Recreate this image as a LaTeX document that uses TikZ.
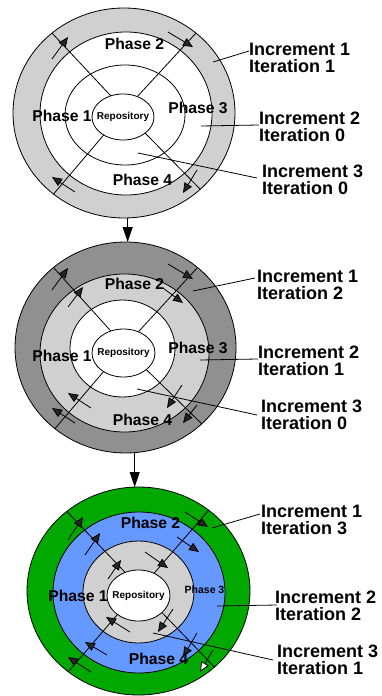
\documentclass[tikz,border=0pt]{standalone}
\usepackage{fontspec}
\setmainfont{Liberation Sans}
\usetikzlibrary{arrows.meta,shapes.geometric,calc}
\definecolor{ringlight}{RGB}{208,208,208}
\definecolor{ringdark}{RGB}{144,144,144}
\definecolor{ringgreen}{RGB}{0,168,0}
\definecolor{ringblue}{RGB}{102,153,255}
\begin{document}
\begin{tikzpicture}[x=1pt,y=-1pt,
  ring/.style={draw=black, line width=0.8pt, ellipse, inner sep=0pt, outer sep=0pt},
  repo/.style={ring, fill=white},
  repotext/.style={font=\bfseries\fontsize{10}{12}\selectfont, inner sep=0pt},
  phase/.style={font=\bfseries\fontsize{15.7}{16}\selectfont, inner sep=0pt},
  phasesmall/.style={font=\bfseries\fontsize{10.5}{12}\selectfont, inner sep=0pt},
  inc/.style={font=\bfseries\fontsize{18}{16.7}\selectfont, align=left, anchor=north west, inner sep=0pt},
  spoke/.style={line width=0.8pt},
  leader/.style={line width=0.8pt},
  flow/.style={line width=0.8pt, -{Triangle[length=10pt,width=8.5pt,fill=black!85]}},
  flowopen/.style={line width=0.8pt, -{Triangle[length=10pt,width=8.5pt,fill=white]}},
  link/.style={line width=1pt, -{Triangle[length=15pt,width=10pt]}}
]
\fill[white] (0,0) rectangle (382,696);
\useasboundingbox (0,0) rectangle (382,696);

% ---------- cycle 1 ----------
\node[ring, fill=ringlight, minimum width=222pt, minimum height=210pt] (o1) at (124,113) {};
\node[ring, fill=white, minimum width=172pt, minimum height=163pt] (m1) at (126,113.5) {};
\node[ring, fill=white, minimum width=120pt, minimum height=100pt] (i1) at (125,115) {};
\node[repo, minimum width=62pt, minimum height=46pt] (r1) at (123,117) {};
\draw[spoke] (r1.120) -- (o1.132);
\draw[spoke] (r1.55) -- (o1.48);
\draw[spoke] (r1.-137) -- (o1.-131);
\draw[spoke] (r1.-36) -- (o1.-45.5);
\node[repotext] (rt1) at (r1) {Repository};
\draw[flow] (52,59) -- (68,37);
\draw[flow] (168,32) -- (193,47);
\draw[flow] (197,170) -- (183,193);
\draw[flow] (75,192) -- (52,177);
\node[phase] (p12) at (134.5,43.5) {Phase 2};
\node[phase] (p11) at (62,116) {Phase 1};
\node[phase] (p13) at (198,107.5) {Phase 3};
\node[phase] (p14) at (142.5,180) {Phase 4};
\node[inc] (l11) at (249,43) {Increment 1\\Iteration 1};
\node[inc] (l12) at (259,112) {Increment 2\\Iteration 0};
\node[inc] (l13) at (262,165) {Increment 3\\Iteration 0};
\coordinate (a11) at (213,62);
\coordinate (a12) at (201,126);
\coordinate (a13) at (138,153);
\draw[leader] (a11) -- ($(l11.north west)+(0,8)$);
\draw[leader] (a12) -- ($(l12.north west)+(0,13)$);
\draw[leader] (a13) -- ($(l13.north west)+(-5,13)$);

% ---------- cycle 2 ----------
\node[ring, fill=ringdark, minimum width=221pt, minimum height=211pt] (o2) at (125.5,347.5) {};
\node[ring, fill=ringlight, minimum width=169pt, minimum height=158pt] (m2) at (124.5,353) {};
\node[ring, fill=white, minimum width=105pt, minimum height=97pt] (i2) at (122.5,348.5) {};
\node[repo, minimum width=63pt, minimum height=48pt] (r2) at (123.5,353) {};
\draw[spoke] (r2.120) -- (o2.132);
\draw[spoke] (r2.55) -- (o2.48);
\draw[spoke] (r2.-137) -- (o2.-131);
\draw[spoke] (r2.-36) -- (o2.-45.5);
\node[repotext] (rt2) at (r2) {Repository};
\draw[flow] (52,290) -- (68,268);
\draw[flow] (68,307) -- (83,287);
\draw[flow] (168,264) -- (193,279);
\draw[flow] (163,288) -- (183,303);
\draw[flow] (182,385) -- (167,408);
\draw[flow] (197,405) -- (183,423);
\draw[flow] (91,408) -- (68,393);
\draw[flow] (75,423) -- (52,408);
\node[phase] (p22) at (134.5,283.5) {Phase 2};
\node[phase] (p21) at (62,356) {Phase 1};
\node[phase] (p23) at (198,347.5) {Phase 3};
\node[phase] (p24) at (142.5,420) {Phase 4};
\node[inc] (l21) at (257,270) {Increment 1\\Iteration 2};
\node[inc] (l22) at (258,346) {Increment 2\\Iteration 1};
\node[inc] (l23) at (261,400) {Increment 3\\Iteration 0};
\coordinate (a21) at (193,291);
\coordinate (a22) at (200,360);
\coordinate (a23) at (137,389);
\draw[leader] (a21) -- ($(l21.north west)+(-2,8)$);
\draw[leader] (a22) -- ($(l22.north west)+(0,13)$);
\draw[leader] (a23) -- ($(l23.north west)+(-4,15)$);

% ---------- cycle 3 ----------
\node[ring, fill=ringgreen, minimum width=223pt, minimum height=208pt] (o3) at (138.5,591) {};
\node[ring, fill=ringblue, minimum width=172pt, minimum height=161pt] (m3) at (139,592.5) {};
\node[ring, fill=ringlight, minimum width=111pt, minimum height=102pt] (i3) at (138.5,592) {};
\node[repo, minimum width=63pt, minimum height=51pt] (r3) at (138.5,595.5) {};
\draw[spoke] (r3.120) -- (o3.132);
\draw[spoke] (r3.55) -- (o3.49);
\draw[spoke] (r3.-138) -- (o3.-131);
\draw[spoke] (r3.-36) -- (o3.-45.5);
\node[repotext] (rt3) at (r3) {Repository};
% outer ring
\draw[flow] (68,540) -- (83,517);
\draw[flow] (185,512) -- (208,527);
\draw[flowopen] (213,650) -- (200,672);
\draw[flow] (91,672) -- (68,657);
% middle ring
\draw[flow] (85,555) -- (100,533);
\draw[flow] (177,537) -- (199,552);
\draw[flow] (197,633) -- (183,657);
\draw[flow] (107,655) -- (85,642);
% inner ring
\draw[flow] (108,579) -- (121,560);
\draw[flow] (145,552) -- (168,568);
\draw[flow] (173,609) -- (158,632);
\draw[flow] (130,632) -- (106,617);
\node[phase] (p32) at (150.5,523) {Phase 2};
\node[phase] (p31) at (78,596) {Phase 1};
\node[phasesmall] (p33) at (204.5,590) {Phase 3};
\node[phase] (p34) at (158.5,659) {Phase 4};
\node[inc] (l31) at (261,505) {Increment 1\\Iteration 3};
\node[inc] (l32) at (275,591) {Increment 2\\Iteration 2};
\node[inc] (l33) at (277,645) {Increment 3\\Iteration 1};
\coordinate (a31) at (212,528);
\coordinate (a32) at (217,606);
\coordinate (a33) at (153,633);
\draw[leader] (a31) -- ($(l31.north west)+(-1,9)$);
\draw[leader] (a32) -- ($(l32.north west)+(2,14)$);
\draw[leader] (a33) -- ($(l33.north west)+(-4,15)$);

% ---------- transitions between cycles ----------
\draw[link] (o1.-88) -- (o1.-88 |- o2.north);
\draw[link] (o2.-85) -- (o2.-85 |- o3.north);
\end{tikzpicture}
\end{document}
